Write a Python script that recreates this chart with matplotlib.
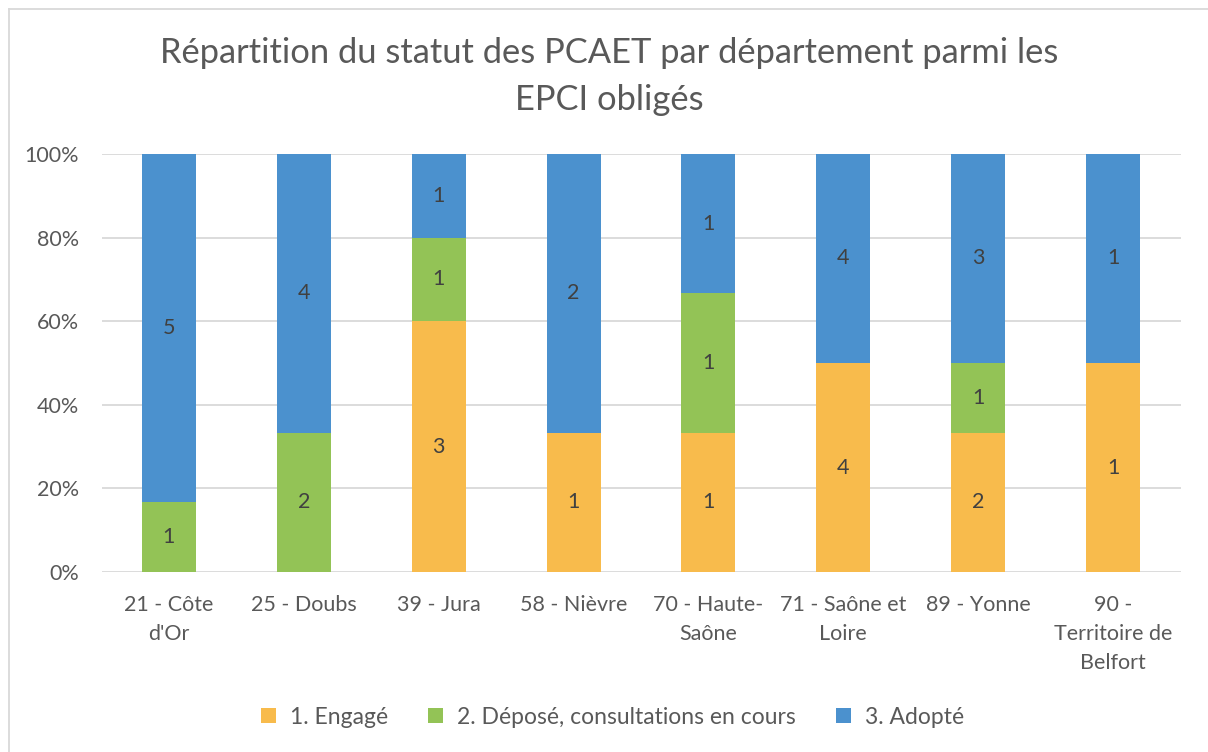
import matplotlib
matplotlib.use("Agg")
import matplotlib.pyplot as plt
import numpy as np
from matplotlib.lines import Line2D
from matplotlib.patches import Patch

plt.rcParams['font.family'] = ['Lato', 'DejaVu Sans']

categories = ["21 - Côte\nd'Or", "25 - Doubs", "39 - Jura", "58 - Nièvre",
              "70 - Haute-\nSaône", "71 - Saône et\nLoire", "89 - Yonne",
              "90 -\nTerritoire de\nBelfort"]
series_names = ["1. Engagé", "2. Déposé, consultations en cours", "3. Adopté"]
engage = [0, 0, 3, 1, 1, 4, 2, 1]
depose = [1, 2, 1, 0, 1, 0, 1, 0]
adopte = [5, 4, 1, 2, 1, 4, 3, 1]
colors = ["#F8BB4C", "#93C356", "#4B91CE"]
title_lines = ["Répartition du statut des PCAET par département parmi les", "EPCI obligés"]

W, H = 1208, 752
fig = plt.figure(figsize=(W / 100, H / 100), dpi=100)
ax = fig.add_axes([101.5 / W, 1 - 572 / H, (1180.5 - 101.5) / W, (572 - 154) / H])

data = np.array([engage, depose, adopte], dtype=float)
totals = data.sum(axis=0)
pct = data / totals
x = np.arange(len(categories))
bottom = np.zeros(len(categories))
for i in range(3):
    ax.bar(x, pct[i], bottom=bottom, width=0.4, color=colors[i], zorder=3)
    for j in range(len(categories)):
        if data[i, j] > 0:
            ax.text(x[j], bottom[j] + pct[i, j] / 2, f"{int(data[i, j])}",
                    ha='center', va='center', fontsize=15.5, color='#404040', zorder=4)
    bottom += pct[i]

ax.set_xlim(-0.5, len(categories) - 0.5)
ax.set_ylim(0, 1)
ax.set_yticks(np.arange(0, 1.01, 0.2))
ax.set_yticklabels([f"{int(round(v * 100))}%" for v in np.arange(0, 1.01, 0.2)])
ax.yaxis.grid(True, color='#D9D9D9', linewidth=1.3, zorder=0)
ax.set_axisbelow(True)
for s in ax.spines.values():
    s.set_visible(False)
ax.tick_params(axis='both', length=0, labelsize=15.5, labelcolor='#595959')
ax.tick_params(axis='y', pad=16)
ax.tick_params(axis='x', pad=16.5)
ax.set_xticks(x)
ax.set_xticklabels(categories, linespacing=1.55)

cx = 0.5 * (162 + 1057) / W
fig.text(cx, 1 - 53 / H, title_lines[0], ha='center', va='center', fontsize=24.8, color='#595959')
fig.text(cx, 1 - 100 / H, title_lines[1], ha='center', va='center', fontsize=24.8, color='#595959')

handles = [Patch(facecolor=c) for c in colors]
leg = fig.legend(handles, series_names, loc='center', bbox_to_anchor=(612.5 / W, 1 - 717 / H),
                 ncol=3, frameon=False, fontsize=16.5, handlelength=0.66, handleheight=0.66,
                 columnspacing=1.75, handletextpad=0.6, borderpad=0, borderaxespad=0)
for t in leg.get_texts():
    t.set_color('#595959')

# chart border (top & left visible)
fig.add_artist(Line2D([9 / W, 1.0], [1 - 9 / H, 1 - 9 / H], color='#D9D9D9', linewidth=1.3))
fig.add_artist(Line2D([9 / W, 9 / W], [0, 1 - 9 / H], color='#D9D9D9', linewidth=1.3))

fig.savefig("out.png", dpi=100)
